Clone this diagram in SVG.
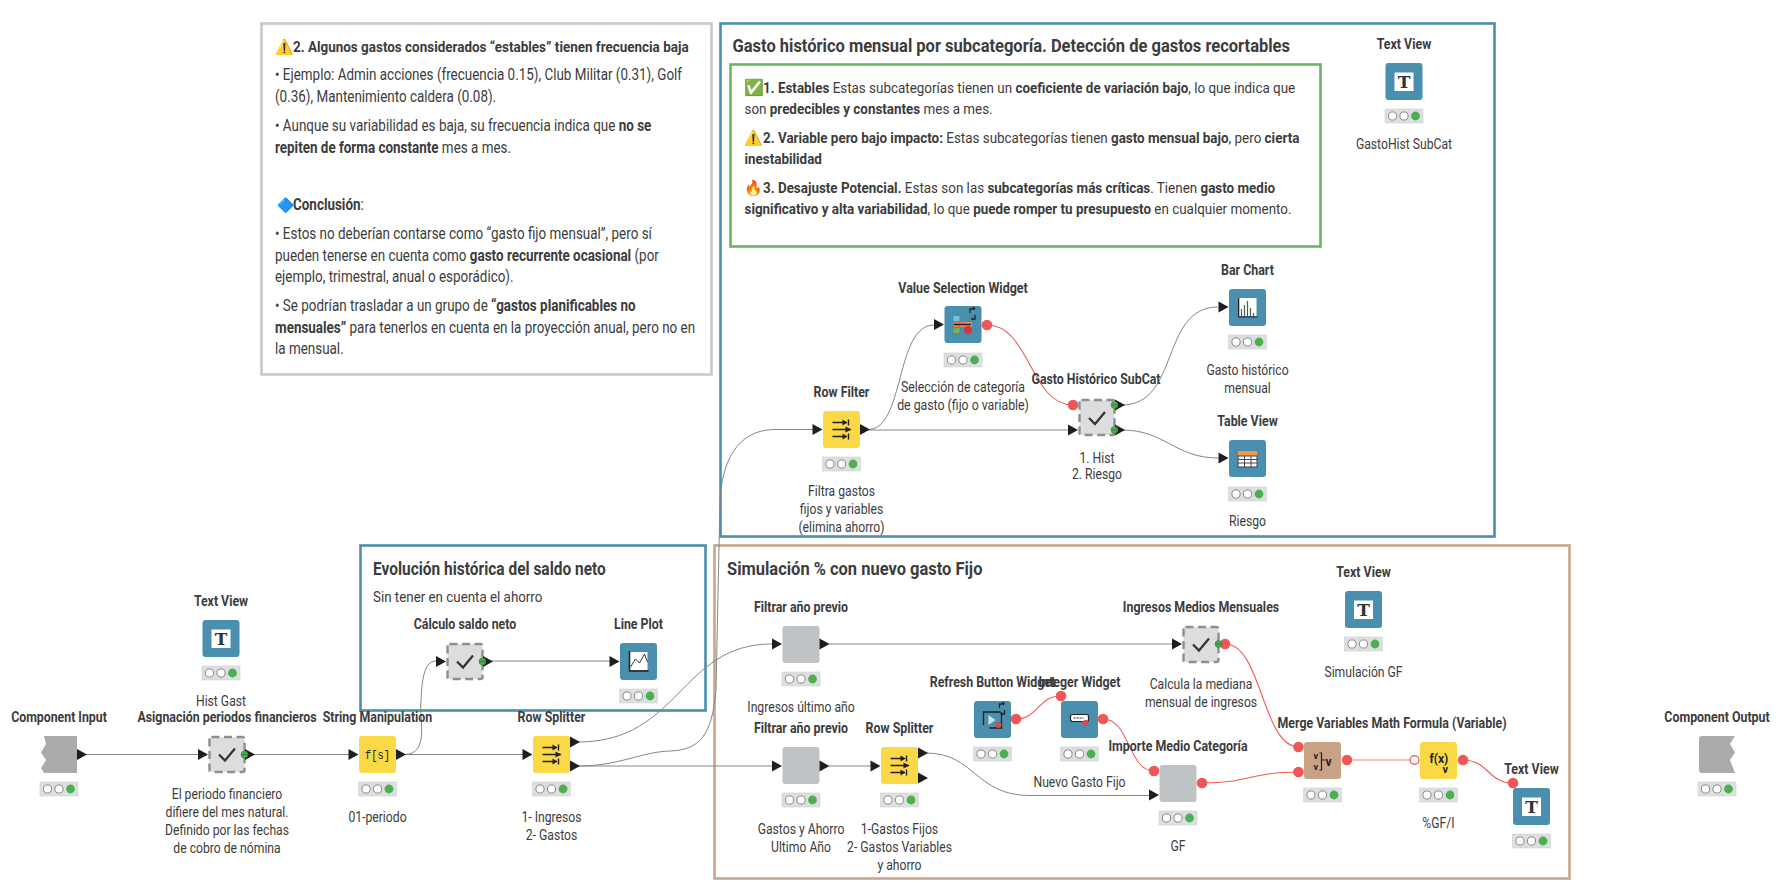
<svg xmlns="http://www.w3.org/2000/svg" width="1778" height="886" viewBox="0 0 1778 886">
<style>
text{font-family:Roboto,"Liberation Sans","Noto Sans",sans-serif;fill:#3c3c3c;font-size:14px}
.c{text-anchor:middle}
.b,.b tspan,tspan.b{font-weight:700}
.h{font-size:18px;font-weight:700}
.f15{font-size:15px}
.f16{font-size:16px}
.e{font-family:'Noto Color Emoji','DejaVu Sans',sans-serif;font-size:15px}
.ti{font-family:'DejaVu Serif',serif;font-weight:700;font-size:17px;fill:#333}
.blue{fill:#4a8fae}.yel{fill:#fbd946}.gry{fill:#bfc3c5}.inp{fill:#ababab}.brn{fill:#c8a287}
.meta{fill:#dcdddf;stroke:#8e8e8e;stroke-width:2.4;stroke-dasharray:8 4.5}
.cn{fill:none;stroke:#858585;stroke-width:1}
.vr{fill:none;stroke:#ef5a5a;stroke-width:1.1}
.ic{fill:none;stroke:#222;stroke-width:1.5}
.ann{fill:#fff;stroke-width:2.6}
</style>
<defs>
<path id="tri" d="M0,-5.500L10,0L0,5.500Z" fill="#1e1e1e"/>
<circle id="vp" r="5.300" fill="#ef5656"/>
<g id="st"><rect x="0" y="0" width="38" height="14" fill="#dcdedf" stroke="#d0d2d3" stroke-width=".6"/><circle cx="7.500" cy="7" r="4.100" fill="#fff" stroke="#8a8a8a"/><circle cx="19" cy="7" r="4.100" fill="#fff" stroke="#8a8a8a"/><circle cx="30.500" cy="7" r="4.400" fill="#4caf50"/></g>
<g id="dot"><circle r="3.400" fill="#4caf50" stroke="#2f7d32" stroke-width=".7"/><path d="M-2.500,0H2.500" stroke="#2f7d32"/></g>
<path id="chk" d="M-8,0L-2,6L8,-6" fill="none" stroke="#333" stroke-width="2.200"/>
<g id="splt"><path class="ic" d="M-9,-7H5M-9,0H9M-9,7H5"/><path d="M1,-10L6,-7L1,-4ZM4,-3L10,0L4,3ZM1,4L6,7L1,10Z" fill="#222"/><path d="M7,-10V-4M7,4V10" stroke="#222" stroke-width="1.400"/></g>
</defs>

<g id="annotations">
<rect class="ann" x="261.500" y="23.500" width="450" height="351" stroke="#c6cacd"/>
<rect class="ann" x="720.500" y="23.500" width="774" height="513" stroke="#4a8fae"/>
<rect class="ann" x="730.500" y="64.500" width="590" height="182" stroke="#6cb463"/>
<rect class="ann" x="714.500" y="545.500" width="855" height="333" stroke="#c9a58b"/>
<rect class="ann" x="360.500" y="545.500" width="345" height="165" stroke="#4a8fae"/>

<g id="note-gray">
<text class="e" x="275" y="52">⚠️</text>
<text class="b f15" transform="translate(293,52) scale(.897,1)">2. Algunos gastos considerados “estables” tienen frecuencia baja</text>
<text class="f16" transform="translate(275,80) scale(.84,1)">• Ejemplo: Admin acciones (frecuencia 0.15), Club Militar (0.31), Golf</text>
<text class="f16" transform="translate(275,102) scale(.84,1)">(0.36), Mantenimiento caldera (0.08).</text>
<text class="f16" transform="translate(275,131) scale(.84,1)">• Aunque su variabilidad es baja, su frecuencia indica que <tspan class="b">no se</tspan></text>
<text class="f16" transform="translate(275,153) scale(.84,1)"><tspan class="b">repiten de forma constante</tspan> mes a mes.</text>
<text class="e" x="277" y="210" style="font-size:14px">🔷</text>
<text class="f16" transform="translate(293,210) scale(.84,1)"><tspan class="b">Conclusión</tspan>:</text>
<text class="f16" transform="translate(275,239) scale(.84,1)">• Estos no deberían contarse como “gasto fijo mensual”, pero sí</text>
<text class="f16" transform="translate(275,261) scale(.84,1)">pueden tenerse en cuenta como <tspan class="b">gasto recurrente ocasional</tspan> (por</text>
<text class="f16" transform="translate(275,282) scale(.84,1)">ejemplo, trimestral, anual o esporádico).</text>
<text class="f16" transform="translate(275,311) scale(.84,1)">• Se podrían trasladar a un grupo de <tspan class="b">“gastos planificables no</tspan></text>
<text class="f16" transform="translate(275,333) scale(.84,1)"><tspan class="b">mensuales”</tspan> para tenerlos en cuenta en la proyección anual, pero no en</text>
<text class="f16" transform="translate(275,354) scale(.84,1)">la mensual.</text>
</g>

<g id="note-blue">
<text class="h" transform="translate(732.500,52) scale(.917,1)">Gasto histórico mensual por subcategoría. Detección de gastos recortables</text>
<text class="e" x="744" y="93" style="font-size:16px">✅</text>
<text class="f15" transform="translate(763,93) scale(.895,1)"><tspan class="b">1. Estables</tspan> Estas subcategorías tienen un <tspan class="b">coeficiente de variación bajo</tspan>, lo que indica que</text>
<text class="f15" transform="translate(744.500,114) scale(.895,1)">son <tspan class="b">predecibles y constantes</tspan> mes a mes.</text>
<text class="e" x="744" y="143">⚠️</text>
<text class="f15" transform="translate(763,143) scale(.895,1)"><tspan class="b">2. Variable pero bajo impacto:</tspan> Estas subcategorías tienen <tspan class="b">gasto mensual bajo</tspan>, pero <tspan class="b">cierta</tspan></text>
<text class="f15" transform="translate(744.500,164) scale(.895,1)"><tspan class="b">inestabilidad</tspan></text>
<text class="e" x="744" y="193">🔥</text>
<text class="f15" transform="translate(763,193) scale(.895,1)"><tspan class="b">3. Desajuste Potencial.</tspan> Estas son las <tspan class="b">subcategorías más críticas</tspan>. Tienen <tspan class="b">gasto medio</tspan></text>
<text class="f15" transform="translate(744.500,214) scale(.895,1)"><tspan class="b">significativo y alta variabilidad</tspan>, lo que <tspan class="b">puede romper tu presupuesto</tspan> en cualquier momento.</text>
</g>

<text class="h" transform="translate(727,575) scale(.915,1)">Simulación % con nuevo gasto Fijo</text>
<text class="h" transform="translate(373,575) scale(.86,1)">Evolución histórica del saldo neto</text>
<text class="f15" transform="translate(373,602) scale(.89,1)">Sin tener en cuenta el ahorro</text>
</g>

<g id="connectors">
<path class="cn" d="M85,754.500H198"/>
<path class="cn" d="M253,754.500H349"/>
<path class="cn" d="M404,754.500H523"/>
<path class="cn" d="M404,754.500C430,754.500 419,720 421,700C422,680 424,661 436,661"/>
<path class="cn" d="M490,661H610"/>
<path class="cn" d="M578,742C680,742 680,644 772,644"/>
<path class="cn" d="M578,766H772"/>
<path class="cn" d="M578,766C620,766 640,752 670,751C700,750 712,735 716,690L720,500C722,465 735,429.500 775,429.500H813"/>
<path class="cn" d="M829,644H1172" stroke-width="1.500"/>
<path class="cn" d="M829,766H871"/>
<path class="cn" d="M926,753C975,753 975,795.500 1030,795.500H1149"/>
<path class="cn" d="M868,429.500C905,429.500 895,325 934,325"/>
<path class="cn" d="M868,430H1068" stroke-width="1.500"/>
<path class="cn" d="M1122,405C1180,405 1160,307 1218,307"/>
<path class="cn" d="M1122,430C1165,430 1175,458 1218,458"/>
<path class="vr" d="M987,325C1030,325 1030,405 1073,405"/>
<path class="vr" d="M1016,719C1038,719 1038,696 1061,696"/>
<path class="vr" d="M1103,719C1130,719 1128,771 1154,771"/>
<path class="vr" d="M1202,783C1250,783 1250,772 1299,772"/>
<path class="vr" d="M1225,644C1262,644 1262,747 1299,747"/>
<path class="vr" d="M1347,760H1415" stroke-width="1.800" opacity=".75"/>
<path class="vr" d="M1463,760C1488,760 1488,783 1513,783"/>
</g>

<g id="n-component-input" transform="translate(59,736)">
<text class="c b" transform="translate(0,-14) scale(.88,1)">Component Input</text>
<path class="inp" d="M-15,0H18V37H-15L-18,32L-13,24L-18,16.500L-13,8Z"/>
<use href="#tri" x="18" y="18.500"/><use href="#st" x="-19" y="46"/>
</g>

<g id="n-textview-histgast" transform="translate(221,620)">
<text class="c b" transform="translate(0,-14) scale(.88,1)">Text View</text>
<rect class="blue" x="-18.500" width="37" height="37" rx="3"/><rect x="-9.500" y="9.500" width="19" height="18.500" fill="#fff"/>
<text class="c ti" x="0" y="24.500">T</text>
<use href="#st" x="-19" y="46"/>
<text class="c" transform="translate(0,86) scale(.87,1)">Hist Gast</text>
</g>

<g id="n-asignacion" transform="translate(227,736)">
<text class="c b" transform="translate(0,-14) scale(.885,1)">Asignación periodos financieros</text>
<use href="#tri" x="-29" y="18.500"/>
<rect class="meta" x="-17.500" y="1" width="35" height="35" rx="2"/><use href="#chk" x="0" y="18.500"/>
<use href="#tri" x="18" y="18.500"/><use href="#dot" x="17.500" y="18.500"/>
<text class="c" transform="translate(0,63) scale(.87,1)">El periodo financiero</text>
<text class="c" transform="translate(0,81) scale(.87,1)">difiere del mes natural.</text>
<text class="c" transform="translate(0,99) scale(.87,1)">Definido por las fechas</text>
<text class="c" transform="translate(0,117) scale(.87,1)">de cobro de nómina</text>
</g>

<g id="n-string-manipulation" transform="translate(377.500,736)">
<text class="c b" transform="translate(0,-14) scale(.885,1)">String Manipulation</text>
<use href="#tri" x="-29" y="18.500"/><rect class="yel" x="-18.500" width="37" height="37" rx="3"/><use href="#tri" x="18.500" y="18.500"/>
<text class="c" transform="translate(0,23) scale(.8,1)" style="font-family:'Liberation Mono',monospace;font-size:13px;fill:#222">f[s]</text>
<use href="#st" x="-19" y="46"/>
<text class="c" transform="translate(0,86) scale(.87,1)">01-periodo</text>
</g>

<g id="n-row-splitter-1" transform="translate(551.500,736)">
<text class="c b" transform="translate(0,-14) scale(.885,1)">Row Splitter</text>
<use href="#tri" x="-29" y="18.500"/><rect class="yel" x="-18.500" width="37" height="37" rx="3"/>
<use href="#tri" x="18.500" y="6"/><use href="#tri" x="18.500" y="30"/><use href="#splt" x="0" y="18.500"/>
<use href="#st" x="-19" y="46"/>
<text class="c" transform="translate(0,86) scale(.87,1)">1- Ingresos</text>
<text class="c" transform="translate(0,104) scale(.87,1)">2- Gastos</text>
</g>

<g id="n-calculo-saldo" transform="translate(465,643)">
<text class="c b" transform="translate(0,-14) scale(.885,1)">Cálculo saldo neto</text>
<use href="#tri" x="-29" y="18.500"/>
<rect class="meta" x="-17.500" y="1" width="35" height="35" rx="2"/><use href="#chk" x="0" y="18.500"/>
<use href="#tri" x="18" y="18.500"/><use href="#dot" x="17.500" y="18.500"/>
</g>

<g id="n-line-plot" transform="translate(638.500,643)">
<text class="c b" transform="translate(0,-14) scale(.885,1)">Line Plot</text>
<use href="#tri" x="-29" y="18.500"/><rect class="blue" x="-18.500" width="37" height="37" rx="3"/>
<rect x="-9" y="9" width="18" height="18" fill="#fff"/>
<path d="M-9,8V28H10" class="ic"/><path d="M-8,24L-3,16L1,20L6,11L9,19" fill="none" stroke="#333" stroke-width="1"/>
<use href="#st" x="-19" y="46"/>
</g>

<g id="n-row-filter" transform="translate(841.500,411)">
<text class="c b" transform="translate(0,-14) scale(.885,1)">Row Filter</text>
<use href="#tri" x="-29" y="18.500"/><rect class="yel" x="-18.500" width="37" height="37" rx="3"/><use href="#tri" x="18.500" y="18.500"/>
<use href="#splt" x="0" y="18.500"/><use href="#st" x="-19" y="46"/>
<text class="c" transform="translate(0,85) scale(.87,1)">Filtra gastos</text>
<text class="c" transform="translate(0,103) scale(.87,1)">fijos y variables</text>
<text class="c" transform="translate(0,121) scale(.87,1)">(elimina ahorro)</text>
</g>

<g id="n-value-selection" transform="translate(963,306)">
<text class="c b" transform="translate(0,-13) scale(.89,1)">Value Selection Widget</text>
<use href="#tri" x="-29" y="18.500"/><rect class="blue" x="-18.500" width="37" height="37" rx="3"/>
<rect x="-9.500" y="10" width="6" height="5" fill="#6ec1e4"/><rect x="-9.500" y="16" width="6" height="5" fill="#ea7a4e"/><rect x="-9.500" y="22" width="6" height="5" fill="#7cb24a"/>
<rect x="-3" y="16" width="12" height="5" fill="#e9855a"/><circle cx="5" cy="24" r="4" fill="#d3353b"/><path d="M-9,18.500H8" stroke="#222" stroke-width="1.400"/>
<path d="M7,7V3H12M12,3L10,1M12,9V13H8" fill="none" stroke="#222" stroke-width="1.300"/>
<use href="#vp" x="24" y="19"/><use href="#st" x="-19" y="47"/>
<text class="c" transform="translate(0,86) scale(.88,1)">Selección de categoría</text>
<text class="c" transform="translate(0,104) scale(.88,1)">de gasto (fijo o variable)</text>
</g>

<g id="n-gasto-historico" transform="translate(1097,399)">
<text class="c b" transform="translate(-1,-15) scale(.88,1)">Gasto Histórico SubCat</text>
<use href="#tri" x="-29" y="31"/><use href="#vp" x="-24" y="6"/>
<rect class="meta" x="-17.500" y="1" width="35" height="35" rx="2"/><use href="#chk" x="0" y="19"/>
<use href="#tri" x="18" y="6"/><use href="#tri" x="18" y="31"/><use href="#dot" x="17.500" y="6"/><use href="#dot" x="17.500" y="31"/>
<text class="c" transform="translate(0,64) scale(.87,1)">1. Hist</text>
<text class="c" transform="translate(0,80) scale(.87,1)">2. Riesgo</text>
</g>

<g id="n-bar-chart" transform="translate(1247.500,289)">
<text class="c b" transform="translate(0,-14) scale(.885,1)">Bar Chart</text>
<use href="#tri" x="-29" y="18"/><rect class="blue" x="-18.500" width="37" height="37" rx="3"/>
<rect x="-8" y="9" width="17" height="18" fill="#fff"/><path d="M-9,9V28H10" fill="none" stroke="#222"/>
<path d="M-6,27V20M-3,27V16M0,27V12M3,27V19M6,27V24" stroke="#555" stroke-width="1.200"/>
<use href="#st" x="-19" y="46"/>
<text class="c" transform="translate(0,86) scale(.87,1)">Gasto histórico</text>
<text class="c" transform="translate(0,104) scale(.87,1)">mensual</text>
</g>

<g id="n-table-view" transform="translate(1247.500,440)">
<text class="c b" transform="translate(0,-14) scale(.885,1)">Table View</text>
<use href="#tri" x="-29" y="18"/><rect class="blue" x="-18.500" width="37" height="37" rx="3"/>
<rect x="-9.500" y="11" width="19" height="5" fill="#f2994a"/><rect x="-9.500" y="16" width="19" height="11" fill="#fff" stroke="#444"/>
<path d="M-9.500,19.500H9.500M-9.500,23H9.500M-3,16V27M3.500,16V27" stroke="#444"/>
<use href="#st" x="-19" y="47"/>
<text class="c" transform="translate(0,86) scale(.87,1)">Riesgo</text>
</g>

<g id="n-textview-gastohist" transform="translate(1404,63)">
<text class="c b" transform="translate(0,-14) scale(.885,1)">Text View</text>
<rect class="blue" x="-18.500" width="37" height="37" rx="3"/><rect x="-9.500" y="9.500" width="19" height="18.500" fill="#fff"/>
<text class="c ti" x="0" y="24.500">T</text>
<use href="#st" x="-19" y="46"/>
<text class="c" transform="translate(0,86) scale(.87,1)">GastoHist SubCat</text>
</g>

<g id="n-filtrar-1" transform="translate(801,626)">
<text class="c b" transform="translate(0,-14) scale(.885,1)">Filtrar año previo</text>
<use href="#tri" x="-29" y="18"/><rect class="gry" x="-18.500" width="37" height="37" rx="3"/><use href="#tri" x="18.500" y="18"/>
<use href="#st" x="-19" y="46"/>
<text class="c" transform="translate(0,86) scale(.87,1)">Ingresos último año</text>
</g>

<g id="n-filtrar-2" transform="translate(801,747)">
<text class="c b" transform="translate(0,-14) scale(.885,1)">Filtrar año previo</text>
<use href="#tri" x="-29" y="19"/><rect class="gry" x="-18.500" width="37" height="37" rx="3"/><use href="#tri" x="18.500" y="19"/>
<use href="#st" x="-19" y="46"/>
<text class="c" transform="translate(0,87) scale(.87,1)">Gastos y Ahorro</text>
<text class="c" transform="translate(0,105) scale(.87,1)">Ultimo Año</text>
</g>

<g id="n-row-splitter-2" transform="translate(899.500,747)">
<text class="c b" transform="translate(0,-14) scale(.885,1)">Row Splitter</text>
<use href="#tri" x="-29" y="19"/><rect class="yel" x="-18.500" width="37" height="37" rx="3"/>
<use href="#tri" x="18.500" y="6"/><use href="#tri" x="18.500" y="31"/><use href="#splt" x="0" y="18.500"/>
<use href="#st" x="-19" y="46"/>
<text class="c" transform="translate(0,87) scale(.87,1)">1-Gastos Fijos</text>
<text class="c" transform="translate(0,105) scale(.87,1)">2- Gastos Variables</text>
<text class="c" transform="translate(0,123) scale(.87,1)">y ahorro</text>
</g>

<g id="n-refresh" transform="translate(992.500,701)">
<text class="c b" transform="translate(0,-14) scale(.885,1)">Refresh Button Widget</text>
<rect class="blue" x="-18.500" width="37" height="37" rx="3"/>
<path d="M-9,24V11H8M9,11V27H-3" fill="none" stroke="#222" stroke-width="1.300"/><path d="M-4,14L3,19L-4,24Z" fill="#cfe3ee"/><circle cx="6" cy="24" r="3" fill="#d94a4f"/>
<path d="M7,7V3H12M12,3L10,1M12,9V13H8" fill="none" stroke="#222" stroke-width="1.300"/>
<use href="#vp" x="23.500" y="18"/><use href="#st" x="-19" y="46"/>
</g>

<g id="n-integer" transform="translate(1079.500,701)">
<text class="c b" transform="translate(0,-14) scale(.885,1)">Integer Widget</text>
<use href="#vp" x="-18.500" y="-5"/>
<rect class="blue" x="-18.500" width="37" height="37" rx="3"/>
<rect x="-9" y="13.500" width="18" height="7" rx="2" fill="#fff" stroke="#222" stroke-width="1.200"/><path d="M-6,17H4" stroke="#222" stroke-width="1.200" stroke-dasharray="2 1"/><circle cx="6" cy="22" r="3" fill="#d94a4f"/>
<use href="#vp" x="23.500" y="18"/><use href="#st" x="-19" y="46"/>
</g>

<text id="lbl-nuevo" class="c" transform="translate(1079.500,787) scale(.87,1)">Nuevo Gasto Fijo</text>

<g id="n-importe-gf" transform="translate(1178,765)">
<text class="c b" transform="translate(0,-14) scale(.885,1)">Importe Medio Categoría</text>
<use href="#vp" x="-24" y="6"/><use href="#tri" x="-29" y="30"/>
<rect class="gry" x="-18.500" width="37" height="37" rx="3"/><use href="#vp" x="24" y="18"/>
<use href="#st" x="-19" y="46"/>
<text class="c" transform="translate(0,86) scale(.87,1)">GF</text>
</g>

<g id="n-ingresos-medios" transform="translate(1201,626)">
<text class="c b" transform="translate(0,-14) scale(.885,1)">Ingresos Medios Mensuales</text>
<use href="#tri" x="-29" y="18"/>
<rect class="meta" x="-17.500" y="1" width="35" height="35" rx="2"/><use href="#chk" x="0" y="18.500"/>
<use href="#vp" x="24" y="18"/><use href="#dot" x="17.500" y="18"/>
<text class="c" transform="translate(0,63) scale(.87,1)">Calcula la mediana</text>
<text class="c" transform="translate(0,81) scale(.87,1)">mensual de ingresos</text>
</g>

<g id="n-textview-sim" transform="translate(1363.500,591)">
<text class="c b" transform="translate(0,-14) scale(.885,1)">Text View</text>
<rect class="blue" x="-18.500" width="37" height="37" rx="3"/><rect x="-9.500" y="9.500" width="19" height="18.500" fill="#fff"/>
<text class="c ti" x="0" y="24.500">T</text>
<use href="#st" x="-19" y="46"/>
<text class="c" transform="translate(0,86) scale(.87,1)">Simulación GF</text>
</g>

<g id="n-merge" transform="translate(1322.500,742)">
<text class="c b" transform="translate(69.500,-14) scale(.885,1)">Merge Variables Math Formula (Variable)</text>
<use href="#vp" x="-24" y="5"/><use href="#vp" x="-24" y="30"/>
<rect class="brn" x="-18.500" width="37" height="37" rx="3"/>
<text x="-9" y="17" style="font-size:9px;font-weight:700;fill:#222">v</text><text x="-9" y="28" style="font-size:9px;font-weight:700;fill:#222">v</text>
<path d="M-3,11H-1V28H-3M-1,18H3" fill="none" stroke="#222" stroke-width="1.200"/>
<text x="3" y="24" style="font-size:12px;font-weight:700;fill:#222">v</text>
<use href="#vp" x="24.500" y="18"/><use href="#st" x="-19" y="46"/>
</g>

<g id="n-math" transform="translate(1438.500,742)">
<circle cx="-24" cy="18" r="4.400" fill="#fff" stroke="#ef5656" stroke-width="1.300"/>
<rect class="yel" x="-18.500" width="37" height="37" rx="3"/>
<text x="-9" y="21" style="font-size:12px;font-weight:700;fill:#222">f(x)</text><text x="4" y="31" style="font-size:11px;font-weight:700;fill:#222">v</text>
<use href="#vp" x="24.500" y="18"/><use href="#st" x="-19" y="46"/>
<text class="c" transform="translate(0,86) scale(.87,1)">%GF/I</text>
</g>

<g id="n-textview-last" transform="translate(1531.500,788)">
<text class="c b" transform="translate(0,-14) scale(.885,1)">Text View</text>
<use href="#vp" x="-18.500" y="-5"/>
<rect class="blue" x="-18.500" width="37" height="37" rx="3"/><rect x="-9.500" y="9.500" width="19" height="18.500" fill="#fff"/>
<text class="c ti" x="0" y="24.500">T</text>
<use href="#st" x="-19" y="46"/>
</g>

<g id="n-component-output" transform="translate(1717,736)">
<text class="c b" transform="translate(0,-14) scale(.885,1)">Component Output</text>
<path class="inp" d="M-15,0H18L13,8L18,16.500L13,24L18,37H-15Q-18,37 -18,34V3Q-18,0 -15,0Z"/>
<use href="#st" x="-19" y="46"/>
</g>
</svg>
